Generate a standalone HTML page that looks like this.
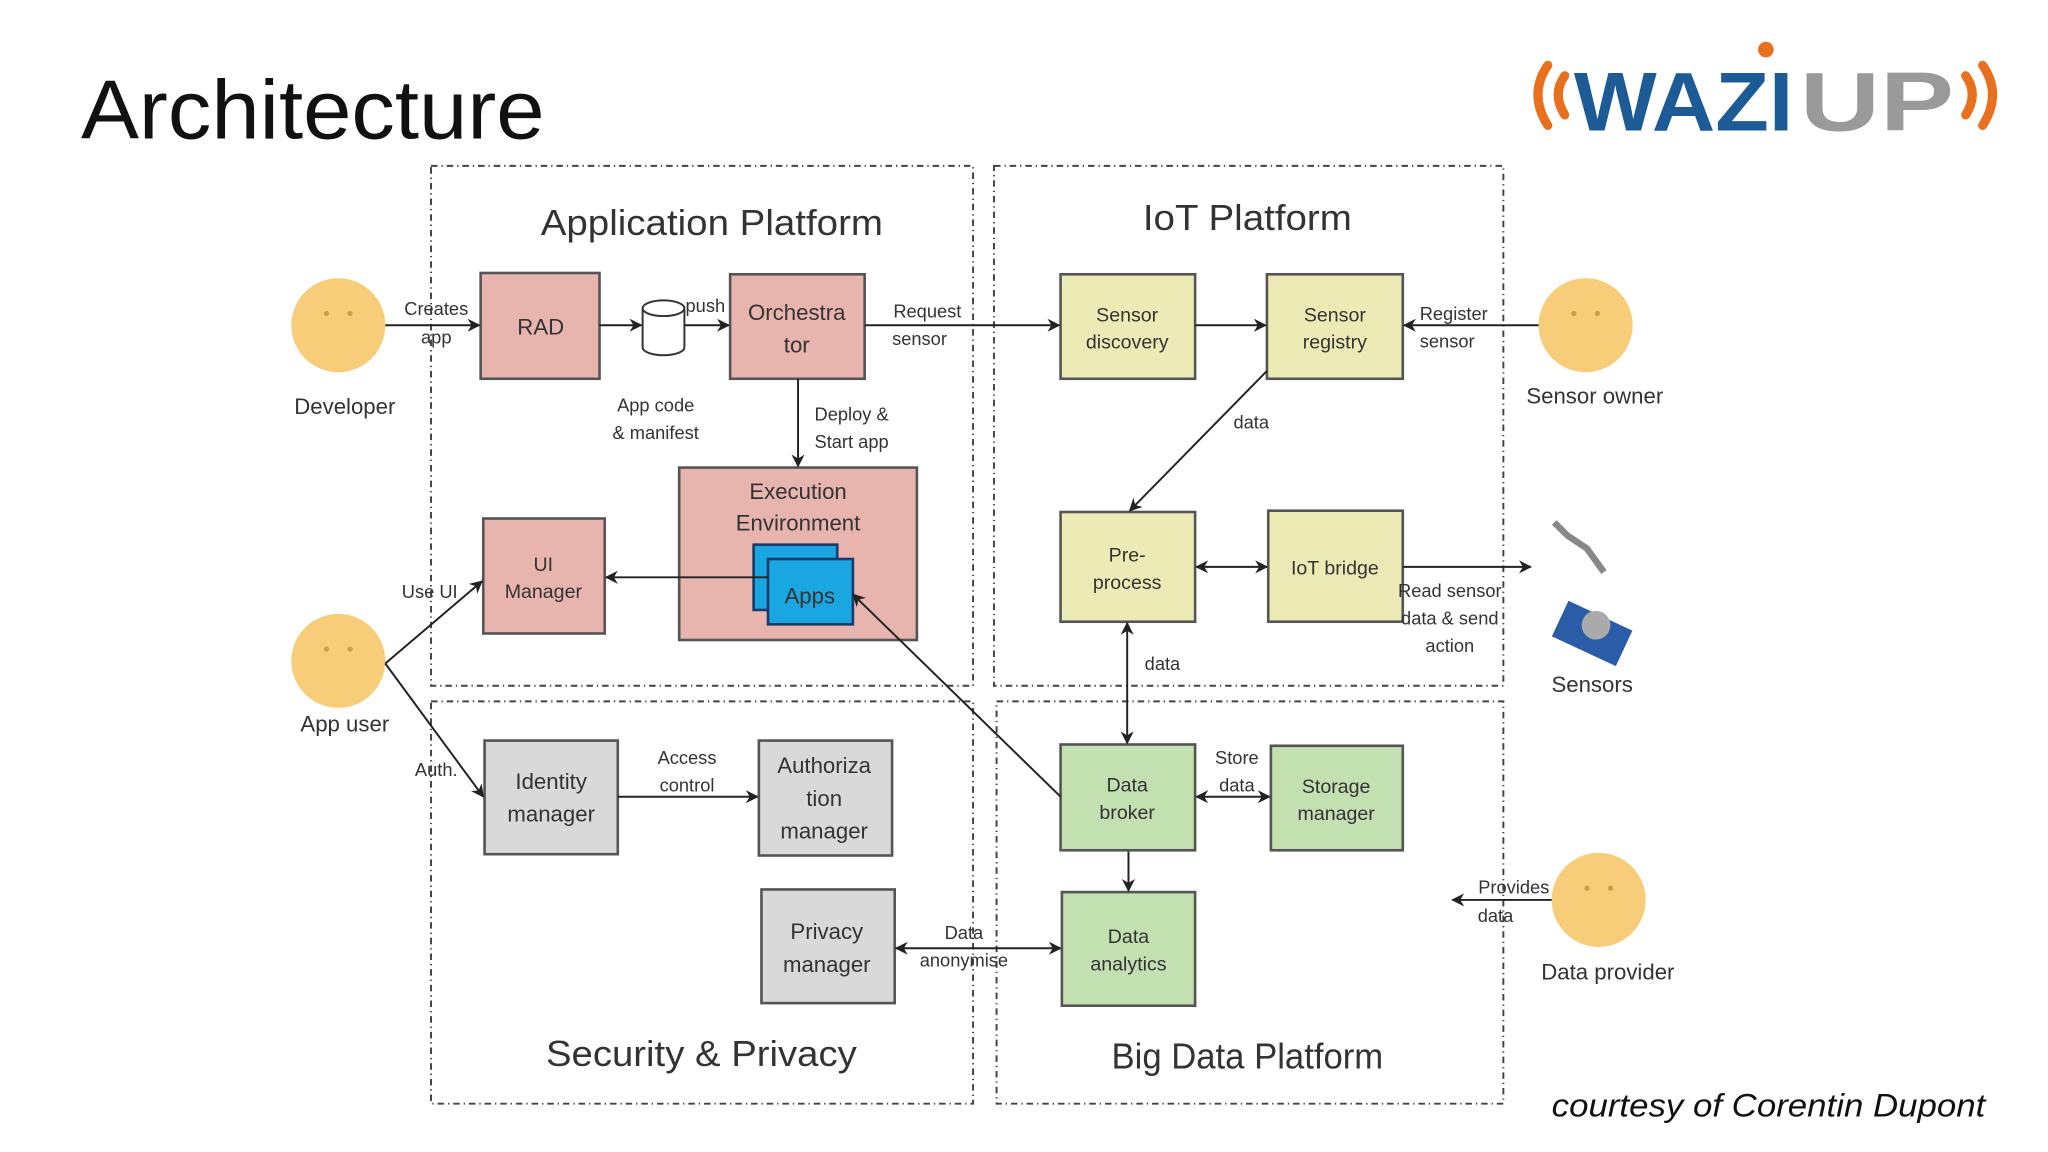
<!DOCTYPE html>
<html><head><meta charset="utf-8"><style>
html,body{margin:0;padding:0;background:#fff;}
svg{display:block;}
text{font-family:"Liberation Sans",sans-serif;fill:#333;}
</style></head><body>
<svg width="2048" height="1152" viewBox="0 0 1568 882" preserveAspectRatio="none" xmlns="http://www.w3.org/2000/svg">
<defs>
<marker id="a" markerWidth="10" markerHeight="10" refX="9" refY="5" orient="auto" markerUnits="userSpaceOnUse"><path d="M0,0 L10,5 L0,10 L3,5 z" fill="#222"/></marker>
<marker id="b" markerWidth="10" markerHeight="10" refX="1" refY="5" orient="auto" markerUnits="userSpaceOnUse"><path d="M10,0 L0,5 L10,10 L7,5 z" fill="#222"/></marker>
</defs>
<rect width="1568" height="882" fill="#fff"/>
<text x="62" y="106" font-size="64" textLength="355" lengthAdjust="spacingAndGlyphs" style="fill:#111">Architecture</text>
<!-- logo -->
<g fill="none" stroke="#e8701e" stroke-width="7" stroke-linecap="round">
<path d="M1185,50 Q1170,72 1185,96"/><path d="M1198,58 Q1188,72 1198,88"/>
<path d="M1518,50 Q1533,72 1518,96"/><path d="M1505,58 Q1515,72 1505,88"/>
</g>
<text x="1205" y="100" font-size="64" font-weight="bold" textLength="168" lengthAdjust="spacingAndGlyphs" style="fill:#1d5b96">WAZI</text>
<text x="1378" y="100" font-size="64" font-weight="bold" textLength="118" lengthAdjust="spacingAndGlyphs" style="fill:#9a9a9a">UP</text>
<circle cx="1352" cy="38" r="6" fill="#e8701e"/>
<!-- dashed containers -->
<g fill="none" stroke="#444" stroke-width="1.5" stroke-dasharray="5,3,1,3">
<rect x="330" y="127" width="415" height="398"/>
<rect x="761" y="127" width="390" height="398"/>
<rect x="330" y="537" width="415" height="308"/>
<rect x="763" y="537" width="388" height="308"/>
</g>
<g font-size="28" text-anchor="middle">
<text x="545" y="180" textLength="262" lengthAdjust="spacingAndGlyphs">Application Platform</text>
<text x="955" y="176" textLength="160" lengthAdjust="spacingAndGlyphs">IoT Platform</text>
<text x="537" y="816" textLength="238" lengthAdjust="spacingAndGlyphs">Security &amp; Privacy</text>
<text x="955" y="818" textLength="208" lengthAdjust="spacingAndGlyphs">Big Data Platform</text>
</g>
<!-- boxes -->
<g stroke="#555" stroke-width="2">
<rect x="368" y="209" width="91" height="81" fill="#e8b4ae"/>
<rect x="559" y="210" width="103" height="80" fill="#e8b4ae"/>
<rect x="520" y="358" width="182" height="132" fill="#e8b4ae"/>
<rect x="370" y="397" width="93" height="88" fill="#e8b4ae"/>
<rect x="812" y="210" width="103" height="80" fill="#ecebb6"/>
<rect x="970" y="210" width="104" height="80" fill="#ecebb6"/>
<rect x="812" y="392" width="103" height="84" fill="#ecebb6"/>
<rect x="971" y="391" width="103" height="85" fill="#ecebb6"/>
<rect x="812" y="570" width="103" height="81" fill="#c3e0b0"/>
<rect x="973" y="571" width="101" height="80" fill="#c3e0b0"/>
<rect x="813" y="683" width="102" height="87" fill="#c3e0b0"/>
<rect x="371" y="567" width="102" height="87" fill="#d9d9d9"/>
<rect x="581" y="567" width="102" height="88" fill="#d9d9d9"/>
<rect x="583" y="681" width="102" height="87" fill="#d9d9d9"/>
<rect x="577" y="417" width="64" height="50" fill="#1aa6e0" stroke="#1a3a6a"/>
<rect x="588" y="428" width="65" height="50" fill="#1aa6e0" stroke="#1a3a6a"/>
</g>
<g font-size="17" text-anchor="middle">
<text x="414" y="256">RAD</text>
<text x="610" y="245">Orchestra</text><text x="610" y="270">tor</text>
<text x="611" y="382">Execution</text><text x="611" y="406">Environment</text>
<text x="620" y="462">Apps</text>
<text x="416" y="437" font-size="15">UI</text><text x="416" y="458" font-size="15">Manager</text>
<text x="863" y="246" font-size="15">Sensor</text><text x="863" y="267" font-size="15">discovery</text>
<text x="1022" y="246" font-size="15">Sensor</text><text x="1022" y="267" font-size="15">registry</text>
<text x="863" y="430" font-size="15">Pre-</text><text x="863" y="451" font-size="15">process</text>
<text x="1022" y="440" font-size="15">IoT bridge</text>
<text x="863" y="606" font-size="15">Data</text><text x="863" y="627" font-size="15">broker</text>
<text x="1023" y="607" font-size="15">Storage</text><text x="1023" y="628" font-size="15">manager</text>
<text x="864" y="722" font-size="15">Data</text><text x="864" y="743" font-size="15">analytics</text>
<text x="422" y="604">Identity</text><text x="422" y="629">manager</text>
<text x="631" y="592">Authoriza</text><text x="631" y="617">tion</text><text x="631" y="642">manager</text>
<text x="633" y="719">Privacy</text><text x="633" y="744">manager</text>
</g>
<!-- faces -->
<g fill="#f7cd7a">
<circle cx="259" cy="249" r="36"/><circle cx="259" cy="506" r="36"/>
<circle cx="1214" cy="249" r="36"/><circle cx="1224" cy="689" r="36"/>
</g>
<g fill="#c9a050">
<circle cx="250" cy="240" r="2"/><circle cx="268" cy="240" r="2"/>
<circle cx="250" cy="497" r="2"/><circle cx="268" cy="497" r="2"/>
<circle cx="1205" cy="240" r="2"/><circle cx="1223" cy="240" r="2"/>
<circle cx="1215" cy="680" r="2"/><circle cx="1233" cy="680" r="2"/>
</g>
<g font-size="17" text-anchor="middle">
<text x="264" y="317">Developer</text>
<text x="264" y="560">App user</text>
<text x="1221" y="309">Sensor owner</text>
<text x="1231" y="750">Data provider</text>
<text x="1219" y="530">Sensors</text>
</g>
<!-- db cylinder -->
<path d="M492,236 L492,266 A16,6 0 0 0 524,266 L524,236" fill="#fff" stroke="#333" stroke-width="1.5"/>
<ellipse cx="508" cy="236" rx="16" ry="6" fill="#fff" stroke="#333" stroke-width="1.5"/>
<!-- sensors images -->
<path d="M1190,400 L1200,410 L1215,420 L1228,438" stroke="#888" stroke-width="5" fill="none"/>
<g transform="rotate(25 1219 485)"><rect x="1192" y="470" width="54" height="30" fill="#2a5ca8"/><circle cx="1219" cy="478" r="11" fill="#aaa"/></g>
<!-- arrows -->
<g stroke="#222" stroke-width="1.5" fill="none" marker-end="url(#a)">
<line x1="295" y1="249" x2="367" y2="249"/>
<line x1="459" y1="249" x2="491" y2="249"/>
<line x1="524" y1="249" x2="558" y2="249"/>
<line x1="662" y1="249" x2="811" y2="249"/>
<line x1="915" y1="249" x2="969" y2="249"/>
<line x1="1178" y1="249" x2="1075" y2="249"/>
<line x1="611" y1="290" x2="611" y2="357"/>
<line x1="970" y1="284" x2="865" y2="391"/>
<line x1="588" y1="442" x2="464" y2="442"/>
<line x1="916" y1="434" x2="970" y2="434" marker-start="url(#b)"/>
<line x1="1074" y1="434" x2="1172" y2="434"/>
<line x1="863" y1="477" x2="863" y2="569" marker-start="url(#b)"/>
<line x1="916" y1="610" x2="972" y2="610" marker-start="url(#b)"/>
<line x1="864" y1="652" x2="864" y2="682"/>
<line x1="686" y1="726" x2="812" y2="726" marker-start="url(#b)"/>
<line x1="473" y1="610" x2="580" y2="610"/>
<line x1="812" y1="610" x2="653" y2="455"/>
<line x1="295" y1="508" x2="369" y2="445"/>
<line x1="295" y1="508" x2="370" y2="610"/>
<line x1="1188" y1="689" x2="1112" y2="689"/>
</g>
<g font-size="14" text-anchor="middle">
<text x="334" y="241">Creates</text><text x="334" y="263">app</text>
<text x="540" y="239">push</text>
<text x="710" y="243">Request</text><text x="704" y="264">sensor</text>
<text x="1113" y="245">Register</text><text x="1108" y="266">sensor</text>
<text x="502" y="315">App code</text><text x="502" y="336">&amp; manifest</text>
<text x="652" y="322">Deploy &amp;</text><text x="652" y="343">Start app</text>
<text x="958" y="328">data</text>
<text x="890" y="513">data</text>
<text x="1110" y="457">Read sensor</text><text x="1110" y="478">data &amp; send</text><text x="1110" y="499">action</text>
<text x="329" y="458">Use UI</text>
<text x="334" y="594">Auth.</text>
<text x="526" y="585">Access</text><text x="526" y="606">control</text>
<text x="947" y="585">Store</text><text x="947" y="606">data</text>
<text x="738" y="719">Data</text><text x="738" y="740">anonymise</text>
<text x="1159" y="684">Provides</text><text x="1145" y="706">data</text>
</g>
<text x="1188" y="855" font-size="25" font-style="italic" textLength="332" lengthAdjust="spacingAndGlyphs" style="fill:#111">courtesy of Corentin Dupont</text>
</svg>
</body></html>
